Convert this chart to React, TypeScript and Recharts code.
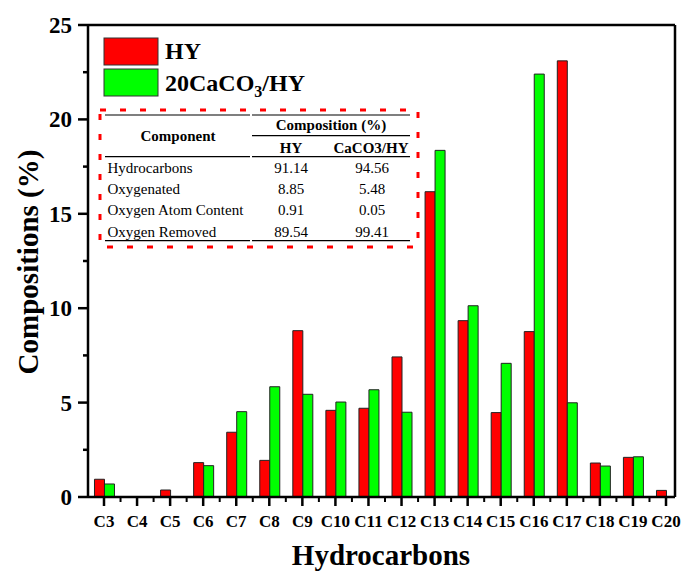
import React from 'react';
import { BarChart, Bar, XAxis, YAxis, ReferenceLine } from 'recharts';

// Carbon-number categories and product compositions (%)
const categories = ['C3', 'C4', 'C5', 'C6', 'C7', 'C8', 'C9', 'C10', 'C11', 'C12', 'C13', 'C14', 'C15', 'C16', 'C17', 'C18', 'C19', 'C20'];
const hyValues = [0.94, 0, 0.37, 1.82, 3.43, 1.94, 8.81, 4.59, 4.7, 7.42, 16.17, 9.34, 4.47, 8.76, 23.1, 1.8, 2.1, 0.35];
const caco3Values = [0.69, 0, 0, 1.66, 4.52, 5.84, 5.44, 5.03, 5.68, 4.49, 18.36, 10.13, 7.08, 22.4, 4.99, 1.64, 2.13, 0];

const yMajorTicks = [0, 5, 10, 15, 20, 25];

// Inset summary table
const tableColumns = ['HY', 'CaCO3/HY'];
const tableRows = [
  ['Hydrocarbons', '91.14', '94.56'],
  ['Oxygenated', '8.85', '5.48'],
  ['Oxygen Atom Content', '0.91', '0.05'],
  ['Oxygen Removed', '89.54', '99.41'],
];

const FONT = '"Liberation Serif", "Times New Roman", serif';
const W = 681;
const H = 571;

const data = categories.map((name, i) => ({ idx: i, name, hy: hyValues[i], caco3: caco3Values[i] }));

// major ticks on each category, minor ticks halfway between neighbours
const xTicks = categories.flatMap((_, i) => (i < categories.length - 1 ? [i, i + 0.5] : [i]));
const yTicks = yMajorTicks.flatMap((v, i) => (i < yMajorTicks.length - 1 ? [v, v + 2.5] : [v]));

const XTick = (props: any) => {
  const { x, y, payload } = props;
  const v = payload.value;
  const major = Number.isInteger(v);
  return (
    <g>
      <line x1={x} x2={x} y1={y} y2={y + (major ? 9 : 5)} stroke="#000" strokeWidth={major ? 2.5 : 2} />
      {major && (
        <text x={x} y={y + 30} textAnchor="middle" fontFamily={FONT} fontWeight="bold" fontSize={17} fill="#000">
          {categories[v]}
        </text>
      )}
    </g>
  );
};

const YTick = (props: any) => {
  const { x, y, payload } = props;
  const v = payload.value;
  const major = v % 5 === 0;
  return (
    <g>
      <line x1={x} x2={x - (major ? 10 : 5)} y1={y} y2={y} stroke="#000" strokeWidth={2.5} />
      {major && (
        <text x={x - 16} y={y} dy="0.35em" textAnchor="end" fontFamily={FONT} fontWeight="bold" fontSize={23} fill="#000">
          {v}
        </text>
      )}
    </g>
  );
};

const Overlay = () => {
  const rowY = [172.7, 194, 215.3, 236.7];
  return (
    <svg width={W} height={H} style={{ position: 'absolute', left: 0, top: 0, pointerEvents: 'none' }}>
      {/* legend */}
      <rect x={104} y={38} width={54} height={27} fill="#ff0000" stroke="#333" strokeWidth={1} />
      <rect x={104} y={69} width={54} height={27} fill="#00ff00" stroke="#333" strokeWidth={1} />
      <text x={165} y={59} fontFamily={FONT} fontWeight="bold" fontSize={24} fill="#000">HY</text>
      <text x={165} y={91} fontFamily={FONT} fontWeight="bold" fontSize={24} fill="#000">
        <tspan>20CaCO</tspan>
        <tspan dy={6} fontSize={16}>3</tspan>
        <tspan dy={-6}>/HY</tspan>
      </text>

      {/* inset table */}
      <rect x={100} y={110} width={318} height={137} fill="none" stroke="#ff0000" strokeWidth={3} strokeDasharray="6 14" />
      <g stroke="#000" strokeWidth={1.2}>
        <line x1={105} x2={250} y1={115} y2={115} />
        <line x1={252} x2={410} y1={115} y2={115} />
        <line x1={252} x2={410} y1={135.7} y2={135.7} />
        <line x1={105} x2={250} y1={156.7} y2={156.7} />
        <line x1={252} x2={410} y1={156.7} y2={156.7} />
        <line x1={105} x2={250} y1={240.7} y2={240.7} />
        <line x1={252} x2={410} y1={240.7} y2={240.7} />
      </g>
      <g fontFamily={FONT} fill="#000">
        <text x={178} y={141} textAnchor="middle" fontWeight="bold" fontSize={15}>Component</text>
        <text x={331} y={130} textAnchor="middle" fontWeight="bold" fontSize={15}>Composition (%)</text>
        <text x={291} y={152.5} textAnchor="middle" fontWeight="bold" fontSize={15}>{tableColumns[0]}</text>
        <text x={371} y={152.5} textAnchor="middle" fontWeight="bold" fontSize={15}>{tableColumns[1]}</text>
        {tableRows.map((r, i) => (
          <g key={r[0]} fontSize={15}>
            <text x={107.5} y={rowY[i]}>{r[0]}</text>
            <text x={291} y={rowY[i]} textAnchor="middle">{r[1]}</text>
            <text x={372} y={rowY[i]} textAnchor="middle">{r[2]}</text>
          </g>
        ))}
      </g>

      {/* axis titles */}
      <text x={381} y={565} textAnchor="middle" fontFamily={FONT} fontWeight="bold" fontSize={29} fill="#000">Hydrocarbons</text>
      <text
        x={0}
        y={0}
        transform="translate(38,262) rotate(-90)"
        textAnchor="middle"
        fontFamily={FONT}
        fontWeight="bold"
        fontSize={29}
        fill="#000"
      >
        Compositions (%)
      </text>
    </svg>
  );
};

export default function App() {
  return (
    <div style={{ position: 'absolute', left: 0, top: 0, width: W, height: H, background: '#fff' }}>
      <BarChart width={W} height={H} data={data} margin={{ top: 25, right: 6, bottom: 0, left: 0 }} barGap={0}>
        <XAxis
          dataKey="idx"
          type="number"
          domain={[-0.484, 17.272]}
          allowDataOverflow
          ticks={xTicks}
          interval={0}
          tick={<XTick />}
          tickLine={false}
          tickSize={0}
          tickMargin={0}
          height={74}
          axisLine={{ stroke: '#000', strokeWidth: 2.5 }}
        />
        <YAxis
          type="number"
          domain={[0, 25]}
          ticks={yTicks}
          interval={0}
          tick={<YTick />}
          tickLine={false}
          tickSize={0}
          tickMargin={0}
          width={88}
          axisLine={{ stroke: '#000', strokeWidth: 2.5 }}
        />
        <ReferenceLine y={25} stroke="#000" strokeWidth={2.5} />
        <ReferenceLine x={17.272} stroke="#000" strokeWidth={2.5} />
        <Bar dataKey="hy" fill="#ff0000" stroke="#222" strokeWidth={1} barSize={10} isAnimationActive={false} />
        <Bar dataKey="caco3" fill="#00ff00" stroke="#222" strokeWidth={1} barSize={10} isAnimationActive={false} />
      </BarChart>
      <Overlay />
    </div>
  );
}
